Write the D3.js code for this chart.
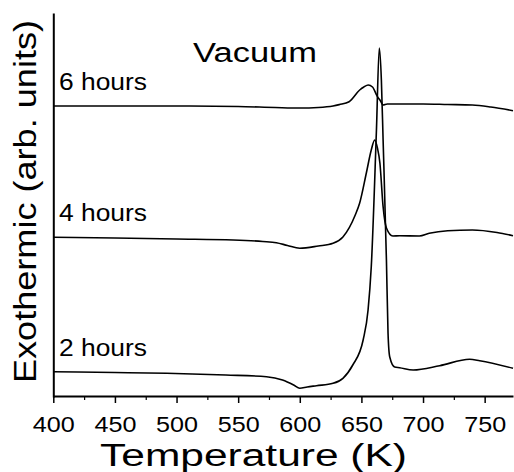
<!DOCTYPE html>
<html>
<head>
<meta charset="utf-8">
<script src="https://cdn.jsdelivr.net/npm/d3@7"></script>
<style>
  html, body { margin: 0; padding: 0; background: #fff; }
  svg { display: block; font-family: "Liberation Sans", Arial, Helvetica, sans-serif; }
</style>
</head>
<body>
<svg id="chart" width="514" height="472"></svg>
<script>
// ---- data (temperature in K, signal in arb. units) ----
const majorTicks = [400, 450, 500, 550, 600, 650, 700, 750];
const minorTicks = [425, 475, 525, 575, 625, 675, 725];
const seriesNames = ["6 hours", "4 hours", "2 hours"];

const temp6h = [400, 450, 500, 550, 580, 600, 615, 627, 632, 640, 648.6, 652, 655.5, 659, 663, 665.5, 667.5, 671, 680, 700, 720, 740, 755, 773];
const vals6h = [291, 291, 291, 290.5, 289.5, 289, 289.5, 291, 292.4, 295.3, 307, 310, 312, 310, 300.3, 296, 292, 293, 293, 293, 292.5, 292, 290, 286.3];

const temp4h = [400, 450, 500, 546, 570, 581, 590, 600, 615, 627, 635, 645, 648.6, 654, 658, 660.8, 663, 665, 667.6, 670.3, 675.5, 681, 697, 705, 720, 740, 760, 773];
const vals4h = [159.7, 159, 158, 157, 155.5, 154.3, 151.5, 148.7, 151, 153.7, 160, 182, 194, 224, 247, 257, 249, 234, 190.3, 169, 161, 161.3, 161, 163.7, 166.3, 167, 164.5, 161.3];

const temp2h = [400, 450, 492, 540, 573, 586, 595, 600, 606, 613.5, 627, 635, 643, 651.4, 655.4, 658, 662.2, 664.5, 666.2, 667.6, 670.3, 671.6, 673, 677, 681, 692, 713.5, 737.8, 746, 773];
const vals2h = [25.3, 24.5, 23.7, 22, 20.3, 17, 12, 8.7, 10, 11.3, 13.7, 18.7, 32, 57, 87, 130.3, 267, 349, 317, 257, 137, 64, 40, 30, 29.3, 27, 31.3, 37.7, 36.3, 28.7];

const labelBase = [291, 159.7, 25.3];

// ---- layout ----
const svg = d3.select("#chart");
const x = d3.scaleLinear().domain([400, 773]).range([53.3, 513]);
const y = d3.scaleLinear().domain([0, 384]).range([397, 13]);

// curves
const series = [
  temp6h.map((t, i) => [t, vals6h[i]]),
  temp4h.map((t, i) => [t, vals4h[i]]),
  temp2h.map((t, i) => [t, vals2h[i]])
];
const line = d3.line().x(d => x(d[0])).y(d => y(d[1])).curve(d3.curveMonotoneX);
svg.append("g").selectAll("path").data(series).join("path")
  .attr("d", line)
  .attr("fill", "none")
  .attr("stroke", "#000")
  .attr("stroke-width", 1.6)
  .attr("stroke-linejoin", "round");

// bottom axis
const axisY = 396;
const xAxis = d3.axisBottom(x).tickValues(majorTicks).tickSize(7).tickSizeOuter(0).tickPadding(13).tickFormat(d3.format("d"));
const gx = svg.append("g").attr("transform", `translate(0,${axisY})`).call(xAxis);
gx.select(".domain").attr("stroke", "#000").attr("stroke-width", 2);
gx.selectAll(".tick line").attr("stroke", "#000").attr("stroke-width", 1.5);
gx.selectAll(".tick text")
  .attr("fill", "#000")
  .style("font-size", "22.5px")
  .attr("textLength", 42)
  .attr("lengthAdjust", "spacingAndGlyphs");
const xMinor = d3.axisBottom(x).tickValues(minorTicks).tickSize(4).tickSizeOuter(0).tickFormat("");
const gxm = svg.append("g").attr("transform", `translate(0,${axisY})`).call(xMinor);
gxm.select(".domain").remove();
gxm.selectAll(".tick line").attr("stroke", "#000").attr("stroke-width", 1.2);

// left axis (line only)
const yAxis = d3.axisLeft(y).tickValues([]).tickSizeOuter(0);
const gy = svg.append("g").attr("transform", `translate(53.3,0)`).call(yAxis);
gy.select(".domain").attr("stroke", "#000").attr("stroke-width", 2);

// series labels
svg.append("g").selectAll("text").data(seriesNames).join("text")
  .attr("x", 59)
  .attr("y", (d, i) => y(labelBase[i]) - 16)
  .attr("font-size", 23)
  .attr("textLength", 88)
  .attr("lengthAdjust", "spacingAndGlyphs")
  .text(d => d);

// title
svg.append("text")
  .attr("x", 193).attr("y", 61.7)
  .attr("font-size", 27)
  .attr("textLength", 124)
  .attr("lengthAdjust", "spacingAndGlyphs")
  .text("Vacuum");

// axis titles
svg.append("text")
  .attr("x", 100).attr("y", 465.5)
  .attr("font-size", 31)
  .attr("textLength", 307)
  .attr("lengthAdjust", "spacingAndGlyphs")
  .text("Temperature (K)");

svg.append("text")
  .attr("transform", "translate(36,383) rotate(-90)")
  .attr("x", 0).attr("y", 0)
  .attr("font-size", 31)
  .attr("textLength", 363)
  .attr("lengthAdjust", "spacingAndGlyphs")
  .text("Exothermic (arb. units)");
</script>
</body>
</html>
